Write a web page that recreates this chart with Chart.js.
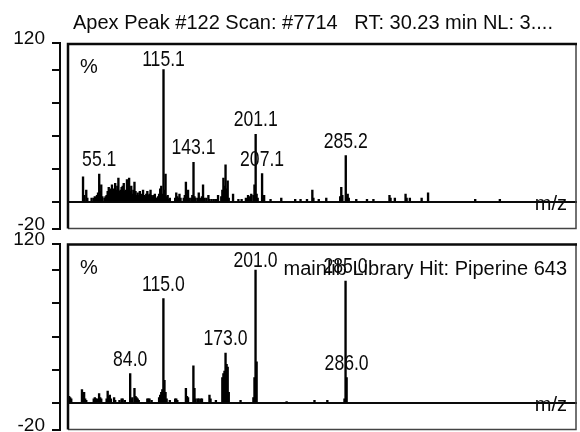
<!DOCTYPE html>
<html><head><meta charset="utf-8">
<script src="https://cdn.jsdelivr.net/npm/chart.js@4"></script>
<style>
html,body{margin:0;padding:0;background:#fff;overflow:hidden;width:580px;height:432px;position:relative}
canvas{display:block;position:absolute;left:0}
#c1{top:0}#c2{top:232px}
</style></head>
<body>
<canvas id="c1" width="580" height="232"></canvas>
<canvas id="c2" width="580" height="200"></canvas>
<script>
// ---------- data ----------
const topTitle = 'Apex Peak #122 Scan: #7714   RT: 30.23 min NL: 3....';
const botTitle = 'mainlib Library Hit: Piperine 643';
const yUnitLabel = '%';
const xUnitLabel = 'm/z';

const mzRange = [18.5, 501];
const yRange = [-20, 120];
const yTicks = [-20, 0, 25, 50, 75, 100, 120];
const yLabelledTicks = [120, -20];

const topMz = [40,41,43,44,48,50,51,53,54,55.1,56,57,58,60,61,62,63,64,65,66,67,68,69,70,71,72,73,74,75,76,77,78,79,80,81,82,83,84,85,86,87,88,89,90,91,92,93,94,95,96,97,98,99,100,101,102,103,104,105,106,107,108,109,110,111,112,113,114,115.1,116,117,118,119,120,121,126,127,128,129,130,131,134,135,136,137,138,139,141,142,143.1,144,145,147,148,149,151,152,153,155,157,158,160,162,164,166,169,170,171,172,173,174,175,176,180,185,188,192,194,196,197,199,200,201.1,202,203,207.1,208,209,215,225,238,243,249,254,255,260,267,280,281,282,285.2,286,287,288,295,305,311,326,327,331,341,342,345,356,362,406,429];
const topInt = [19,5,9,3,3,3,4,5,7,21,8,13,4,3,4,5,8,11,9,10,13,8,10,14,9,12,18,8,9,11,12,14,8,9,17,10,18,8,12,6,9,15,8,5,7,5,8,5,6,9,5,4,6,8,5,6,9,5,4,5,6,3,3,4,6,10,12,6,100,9,21,4,5,2,3,3,7,4,3,6,3,3,5,15,6,9,3,3,5,30,4,3,3,7,3,4,13,3,3,5,2,2,2,2,5,4,9,18,12,28,10,16,3,6,2,2,3,5,4,6,5,13,51,6,3,21.5,4,5,2,3,2,2,2,9,3,2,3,4,11,5,35,4,6,3,2,2,2,5,3,3,6,3,3,3,7,2,2];
const topLabelMz = [55.1, 115.1, 143.1, 201.1, 207.1, 285.2];

const botMz = [27,28,29,39,40,41,42,43,50,51,52,53,55,56,57,62,63,64,65,66,69,70,74,76,77,79,84.0,85,86,88,89,90,91,92,100,101,102,104,111,112,113,114,115.0,116,117,118,121,126,127,128,136,137,138,143,144,145,147,148,150,151,158,159,164,170,171,172,173.0,174,175,176,187,199,200,201.0,202,230,256,268,284,285.0,286.0];
const botInt = [5,4,3,10,6,8,3,2,3,4,3,3,7,4,3,3,9,5,6,3,4,2,2,3,3,2,22,3,4,11,5,4,3,2,3,3,3,2,4,6,8,10,78.6,17,8,3,2,3,3,2,11,5,4,28,11,3,3,3,3,3,6,3,2,19,22,24,37.5,29,27,8,2,4,19,100,31,1,2,2,3,91.7,19];
const botLabelMz = [84.0, 115.0, 173.0, 201.0, 285.0, 286.0];

// ---------- fonts ----------
function hasFont(name){
  const c = document.createElement('canvas').getContext('2d');
  const s = 'mmmmmmwwwwwlli120.5';
  c.font = '40px monospace'; const w1 = c.measureText(s).width;
  c.font = '40px "' + name + '", monospace'; const w2 = c.measureText(s).width;
  return Math.abs(w1 - w2) > 0.5;
}
const NARROW = hasFont('Liberation Sans Narrow');
const NUM_FAMILY = NARROW ? '"Liberation Sans Narrow"' : '"Liberation Sans"';
const NUM_SX = NARROW ? 1 : 0.8;
const TEXT_FAMILY = '"Liberation Sans", Arial, sans-serif';
const INK = '#0a0a0a';

// ---------- decoration plugin ----------
const decor = {
  id: 'decor',
  beforeDatasetsDraw(chart, args, o) {
    const {ctx, chartArea: a, scales: {y}} = chart;
    const fl = a.left + 8;
    const y0 = y.getPixelForValue(0);
    ctx.save();
    ctx.strokeStyle = INK; ctx.lineWidth = 2;
    ctx.beginPath(); ctx.moveTo(fl, y0); ctx.lineTo(a.right, y0); ctx.stroke();
    ctx.restore();
  },
  afterDatasetsDraw(chart, args, o) {
    const {ctx, chartArea: a, scales: {x, y}} = chart;
    const fl = a.left + 8;
    const y0 = y.getPixelForValue(0);
    ctx.save();
    // frame
    ctx.strokeStyle = '#444'; ctx.lineWidth = 1.5;
    ctx.beginPath(); ctx.moveTo(fl, a.bottom); ctx.lineTo(a.right - 1, a.bottom); ctx.lineTo(a.right - 1, a.top); ctx.stroke();
    ctx.strokeStyle = INK; ctx.lineWidth = 2.5;
    ctx.beginPath(); ctx.moveTo(fl, a.bottom); ctx.lineTo(fl, a.top + 1); ctx.lineTo(a.right, a.top + 1); ctx.stroke();

    ctx.fillStyle = INK;
    ctx.textBaseline = 'alphabetic';
    ctx.font = '20px ' + TEXT_FAMILY;
    // title
    if (o.title) {
      if (o.titleAlign === 'right') { ctx.textAlign = 'right'; ctx.fillText(o.title, a.right - 10, a.top + 31); }
      else { ctx.textAlign = 'left'; ctx.fillText(o.title, a.left + 13, a.top - 14); }
    }
    // % and m/z
    ctx.textAlign = 'left';
    ctx.fillText(yUnitLabel, a.left + 20, a.top + 30);
    ctx.textAlign = 'right';
    ctx.fillText(xUnitLabel, a.right - 10, y0 + 8);

    // peak labels
    const ds = chart.data.datasets[0].data;
    ctx.font = '22px ' + NUM_FAMILY;
    ctx.textAlign = 'center';
    (o.labels || []).forEach(m => {
      const pt = ds.find(d => d.x === m);
      if (!pt) return;
      const px = x.getPixelForValue(m);
      const py = y.getPixelForValue(pt.y);
      const by = Math.max(py - 8, a.top + 23);
      ctx.save(); ctx.translate(px, by); ctx.scale(NUM_SX, 1);
      ctx.fillText(m.toFixed(1), 0, 0);
      ctx.restore();
    });
    ctx.restore();
  }
};

function makeChart(id, mz, inten, labels, title, titleAlign, padTop, padBottom) {
  return new Chart(document.getElementById(id), {
    type: 'bar',
    data: { datasets: [{
      data: mz.map((m, i) => ({x: m, y: inten[i]})),
      backgroundColor: '#000', borderWidth: 0, barThickness: 1.7
    }]},
    options: {
      responsive: false, animation: false, events: [], devicePixelRatio: 1,
      layout: { padding: { top: padTop, bottom: padBottom, left: 0, right: 3 } },
      plugins: {
        legend: { display: false }, tooltip: { enabled: false }, title: { display: false },
        decor: { title: title, titleAlign: titleAlign, labels: labels }
      },
      scales: {
        x: { type: 'linear', min: mzRange[0], max: mzRange[1], display: false, offset: false },
        y: {
          min: yRange[0], max: yRange[1],
          afterBuildTicks: s => { s.ticks = yTicks.map(v => ({value: v})); },
          afterFit: s => { s.width = 60; s.paddingTop = 0; s.paddingBottom = 0; },
          ticks: {
            autoSkip: false,
            callback: v => yLabelledTicks.includes(v) ? String(v) : '',
            color: INK, padding: 7, labelOffset: -4,
            font: { family: NUM_FAMILY, size: NARROW ? 21 : 19 }
          },
          grid: { drawOnChartArea: false, drawTicks: true, tickLength: 8, color: INK, lineWidth: 2 },
          border: { display: true, color: INK, width: 2 }
        }
      }
    },
    plugins: [decor]
  });
}

makeChart('c1', topMz, topInt, topLabelMz, topTitle, 'left', 43, 3.5);
makeChart('c2', botMz, botInt, botLabelMz, botTitle, 'right', 11.5, 2.5);
</script>
</body></html>
